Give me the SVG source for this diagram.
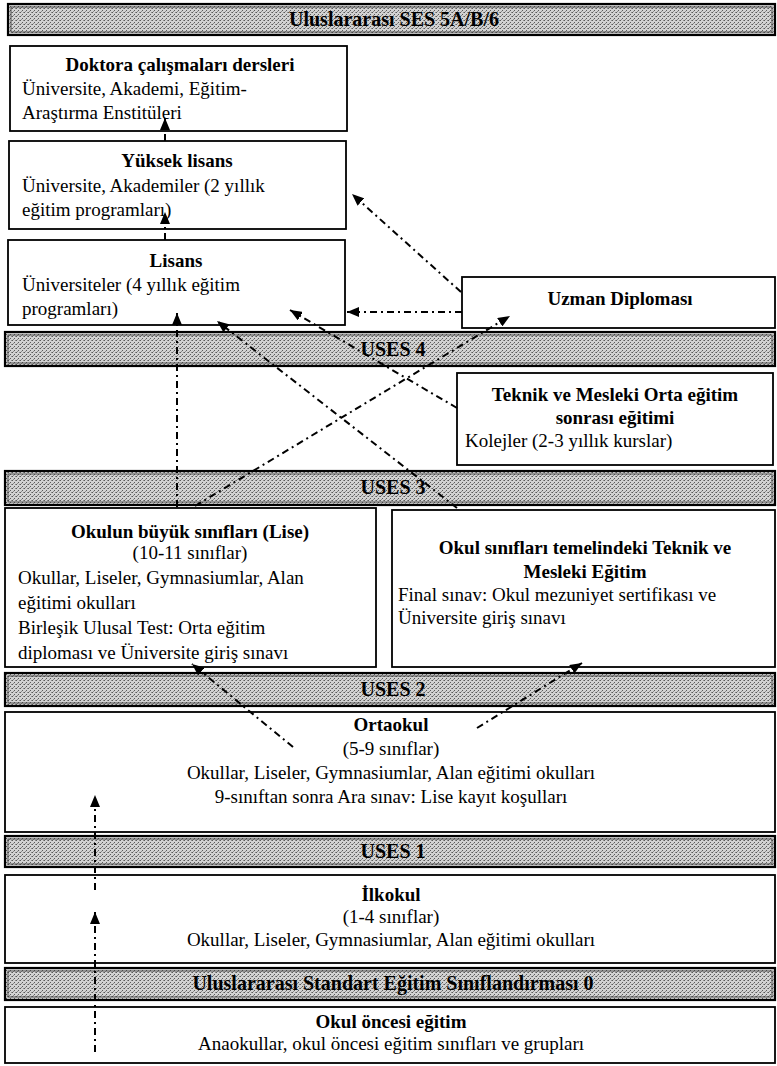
<svg xmlns="http://www.w3.org/2000/svg" width="777" height="1066" viewBox="0 0 777 1066">
<defs>
  <pattern id="stip" width="4" height="4" patternUnits="userSpaceOnUse">
    <rect width="4" height="4" fill="#d2d2d2"/>
    <rect x="0" y="0" width="1" height="1" fill="#5a5a5a"/>
    <rect x="2" y="2" width="1" height="1" fill="#5a5a5a"/>
    <rect x="3" y="0" width="1" height="1" fill="#8c8c8c"/>
    <rect x="1" y="3" width="1" height="1" fill="#8c8c8c"/>
  </pattern>
  <marker id="ah" markerUnits="userSpaceOnUse" markerWidth="12" markerHeight="10" refX="12" refY="5" orient="auto">
    <path d="M0,0 L12,5 L0,10 z" fill="#000"/>
  </marker>
</defs>
<style>
  .band { fill: url(#stip); stroke: #000; stroke-width: 2.2; }
  .bandin { fill: none; stroke: #333; stroke-width: 0.8; }
  .box { fill: #fff; stroke: #000; stroke-width: 1.8; }
  text { font-family: "Liberation Serif", "Times New Roman", serif; font-size: 19px; fill: #000; }
  .b { font-weight: bold; }
  .c { text-anchor: middle; }
  .bl { font-weight: bold; font-size: 20px; text-anchor: middle; }
  .con { fill: none; stroke: #000; stroke-width: 2; stroke-dasharray: 7 4 2 4; marker-end: url(#ah); }
</style>

<g id="band-ses56">
  <rect class="band" x="8" y="4" width="767" height="31"/>
  <rect class="bandin" x="11" y="7" width="761" height="25"/>
  <text class="bl" x="394" y="26">Uluslararası SES 5A/B/6</text>
</g>

<g id="doktora">
  <rect class="box" x="10" y="46" width="337" height="85"/>
  <text class="b c" x="180" y="71">Doktora çalışmaları dersleri</text>
  <text x="22" y="95">Üniversite, Akademi, Eğitim-</text>
  <text x="22" y="119">Araştırma Enstitüleri</text>
</g>

<g id="yuksek-lisans">
  <rect class="box" x="9" y="141" width="337" height="88"/>
  <text class="b c" x="177" y="167">Yüksek lisans</text>
  <text x="22" y="192">Üniversite, Akademiler (2 yıllık</text>
  <text x="22" y="216">eğitim programları)</text>
</g>

<g id="lisans">
  <rect class="box" x="8" y="240" width="337" height="85"/>
  <text class="b c" x="176" y="267">Lisans</text>
  <text x="22" y="291">Üniversiteler (4 yıllık eğitim</text>
  <text x="22" y="315">programları)</text>
</g>

<g id="uzman">
  <rect class="box" x="462" y="277" width="313" height="51"/>
  <text class="b c" x="620" y="305">Uzman Diploması</text>
</g>

<g id="band-uses4">
  <rect class="band" x="5" y="332" width="770" height="34"/>
  <rect class="bandin" x="8" y="335" width="764" height="28"/>
  <text class="bl" x="393" y="356">USES 4</text>
</g>

<g id="teknik-orta-sonrasi">
  <rect class="box" x="457" y="373" width="316" height="92"/>
  <text class="b c" x="615" y="401">Teknik ve Mesleki Orta eğitim</text>
  <text class="b c" x="615" y="424">sonrası eğitimi</text>
  <text x="465" y="447">Kolejler (2-3 yıllık kurslar)</text>
</g>

<g id="band-uses3">
  <rect class="band" x="5" y="471" width="770" height="34"/>
  <rect class="bandin" x="8" y="474" width="764" height="28"/>
  <text class="bl" x="393" y="494">USES 3</text>
</g>

<g id="lise">
  <rect class="box" x="5" y="508" width="371" height="159"/>
  <text class="b c" x="190" y="538">Okulun büyük sınıfları (Lise)</text>
  <text class="c" x="190" y="559">(10-11 sınıflar)</text>
  <text x="18" y="584">Okullar, Liseler, Gymnasiumlar, Alan</text>
  <text x="18" y="609">eğitimi okulları</text>
  <text x="18" y="634">Birleşik Ulusal Test: Orta eğitim</text>
  <text x="18" y="659">diploması ve Üniversite giriş sınavı</text>
</g>

<g id="teknik-mesleki-okul">
  <rect class="box" x="392" y="510" width="383" height="157"/>
  <text class="b c" x="585" y="554">Okul sınıfları temelindeki Teknik ve</text>
  <text class="b c" x="585" y="578">Mesleki Eğitim</text>
  <text x="398" y="601">Final sınav: Okul mezuniyet sertifikası ve</text>
  <text x="398" y="624">Üniversite giriş sınavı</text>
</g>

<g id="band-uses2">
  <rect class="band" x="5" y="673" width="770" height="33"/>
  <rect class="bandin" x="8" y="676" width="764" height="27"/>
  <text class="bl" x="393" y="696">USES 2</text>
</g>

<g id="ortaokul">
  <rect class="box" x="5" y="712" width="770" height="120"/>
  <text class="b c" x="391" y="731">Ortaokul</text>
  <text class="c" x="391" y="755">(5-9 sınıflar)</text>
  <text class="c" x="391" y="779">Okullar, Liseler, Gymnasiumlar, Alan eğitimi okulları</text>
  <text class="c" x="391" y="803">9-sınıftan sonra Ara sınav: Lise kayıt koşulları</text>
</g>

<g id="band-uses1">
  <rect class="band" x="5" y="836" width="770" height="31"/>
  <rect class="bandin" x="8" y="839" width="764" height="25"/>
  <text class="bl" x="393" y="858">USES 1</text>
</g>

<g id="ilkokul">
  <rect class="box" x="5" y="875" width="770" height="88"/>
  <text class="b c" x="391" y="901">İlkokul</text>
  <text class="c" x="391" y="923">(1-4 sınıflar)</text>
  <text class="c" x="391" y="946">Okullar, Liseler, Gymnasiumlar, Alan eğitimi okulları</text>
</g>

<g id="band-uses0">
  <rect class="band" x="5" y="968" width="770" height="32"/>
  <rect class="bandin" x="8" y="971" width="764" height="26"/>
  <text class="bl" x="393" y="990">Uluslararası Standart Eğitim Sınıflandırması 0</text>
</g>

<g id="okul-oncesi">
  <rect class="box" x="5" y="1007" width="770" height="56"/>
  <text class="b c" x="391" y="1028">Okul öncesi eğitim</text>
  <text class="c" x="391" y="1050">Anaokullar, okul öncesi eğitim sınıfları ve grupları</text>
</g>

<g id="connectors">
  <path class="con" d="M165,141 L165,118"/>
  <path class="con" d="M165,240 L165,212"/>
  <path class="con" d="M177,507 L177,313"/>
  <path class="con" d="M195,506 L510,316"/>
  <path class="con" d="M461,292 L352,194"/>
  <path class="con" d="M462,312 L347,312"/>
  <path class="con" d="M457,408 L290,310"/>
  <path class="con" d="M457,508 L217,321"/>
  <path class="con" d="M293,747 L192,664"/>
  <path class="con" d="M477,728 L582,663"/>
  <path class="con" d="M95,1052 L95,912"/>
  <path class="con" d="M95,890 L95,795"/>
</g>
</svg>
